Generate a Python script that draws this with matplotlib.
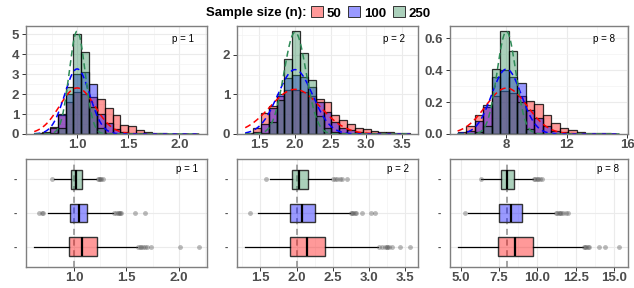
import numpy as np
import matplotlib.pyplot as plt
from matplotlib.colors import to_rgba
from matplotlib.patches import Patch
from matplotlib.ticker import MultipleLocator

plt.rcParams['font.family'] = ['Liberation Sans', 'DejaVu Sans']

# sample sizes and colours (red = 50, blue = 100, green = 250)
sizes = ['50', '100', '250']
fills = ['#FF0000', '#0000FF', '#2E8B57']
lines = ['#FF0000', '#0000FF', '#2E8B57']
p_values = [1, 2, 8]

# histograms: first bin edge, bin width, density per bin
bin_start = [0.58, 1.30, 4.76]
bin_width = [0.0767, 0.11, 0.565]

dens_p1_n50 = [0.03, 0.1, 0.35, 0.95, 1.6, 2.1, 2.0, 1.85, 1.75, 1.3, 0.93,
               0.45, 0.38, 0.22, 0.12, 0.06, 0.03, 0.01, 0.0, 0.01, 0.01]
dens_p1_n100 = [0.0, 0.04, 0.3, 1.0, 2.0, 3.0, 3.1, 2.5, 1.0, 0.55, 0.25,
                0.1, 0.05, 0.03, 0.01, 0.01, 0.0, 0.0, 0.0, 0.0, 0.0]
dens_p1_n250 = [0.0, 0.0, 0.03, 0.3, 2.35, 5.0, 4.1, 1.35, 0.3, 0.05, 0.01,
                0.0, 0.0, 0.0, 0.0, 0.0, 0.0, 0.0, 0.0, 0.0, 0.0]

dens_p2_n50 = [0.03, 0.15, 0.53, 0.7, 0.95, 1.1, 1.1, 1.05, 0.95, 0.88, 0.8,
               0.47, 0.35, 0.26, 0.15, 0.12, 0.08, 0.06, 0.04, 0.02, 0.02]
dens_p2_n100 = [0.0, 0.06, 0.25, 0.65, 1.0, 1.41, 1.5, 1.45, 1.2, 0.8, 0.55,
                0.3, 0.15, 0.1, 0.05, 0.03, 0.02, 0.0, 0.0, 0.0, 0.0]
dens_p2_n250 = [0.0, 0.0, 0.02, 0.3, 0.85, 1.9, 2.6, 2.05, 1.37, 0.45, 0.15,
                0.05, 0.02, 0.0, 0.0, 0.0, 0.0, 0.0, 0.0, 0.0, 0.0]

dens_p8_n50 = [0.015, 0.05, 0.12, 0.17, 0.24, 0.27, 0.26, 0.24, 0.21, 0.19,
               0.12, 0.07, 0.04, 0.025, 0.015, 0.008, 0.005, 0.004, 0.003]
dens_p8_n100 = [0.003, 0.02, 0.08, 0.18, 0.36, 0.4, 0.36, 0.32, 0.15, 0.1,
                0.05, 0.02, 0.01, 0.005, 0.0, 0.0, 0.0, 0.0, 0.0]
dens_p8_n250 = [0.0, 0.0, 0.01, 0.05, 0.41, 0.645, 0.52, 0.2, 0.03, 0.005,
                0.0, 0.0, 0.0, 0.0, 0.0, 0.0, 0.0, 0.0, 0.0]

# normal approximations (dashed curves): sd for n = 50, 100, 250
curve_sd_p1 = [0.173, 0.1225, 0.0775]
curve_sd_p2 = [0.3535, 0.245, 0.155]
curve_sd_p8 = [1.386, 0.98, 0.62]

# boxplots: [whisker low, q1, median, q3, whisker high] and outliers
box_p1_n50 = [0.62, 0.955, 1.08, 1.22, 1.60]
box_p1_n100 = [0.75, 0.962, 1.045, 1.127, 1.37]
box_p1_n250 = [0.81, 0.968, 1.018, 1.075, 1.21]
out_p1_n50 = [1.61, 1.63, 1.64, 1.66, 1.68, 1.70, 1.73, 2.01, 2.19]
out_p1_n100 = [0.67, 0.69, 0.70, 1.385, 1.40, 1.42, 1.43, 1.44, 1.45, 1.58, 1.68]
out_p1_n250 = [0.79, 1.225, 1.24, 1.25, 1.26, 1.28]

box_p2_n50 = [1.29, 1.905, 2.14, 2.395, 3.12]
box_p2_n100 = [1.47, 1.905, 2.07, 2.25, 2.74]
box_p2_n250 = [1.63, 1.935, 2.035, 2.15, 2.48]
out_p2_n50 = [3.14, 3.17, 3.22, 3.24, 3.25, 3.27, 3.31, 3.42, 3.56]
out_p2_n100 = [1.36, 2.75, 2.76, 2.78, 2.80, 2.82, 2.90, 3.02, 3.08]
out_p2_n250 = [1.57, 2.50, 2.53, 2.56, 2.60, 2.62, 2.69]

box_p8_n50 = [4.8, 7.45, 8.55, 9.69, 13.0]
box_p8_n100 = [5.5, 7.52, 8.26, 8.99, 11.1]
box_p8_n250 = [6.35, 7.65, 8.04, 8.48, 9.69]
out_p8_n50 = [13.05, 13.1, 13.2, 13.3, 13.4, 14.05, 14.4, 15.35]
out_p8_n100 = [5.3, 11.2, 11.3, 11.4, 11.45, 11.55, 11.7, 11.85, 12.0]
out_p8_n250 = [6.3, 9.75, 9.85, 9.95, 10.05, 10.15, 10.3]

hist_x_ticks = [[1.0, 1.5, 2.0], [1.5, 2.0, 2.5, 3.0, 3.5], [8, 12, 16]]
hist_x_labels = [['1.0', '1.5', '2.0'], ['1.5', '2.0', '2.5', '3.0', '3.5'], ['8', '12', '16']]
hist_y_ticks = [[0, 1, 2, 3, 4, 5], [0, 1, 2], [0.0, 0.2, 0.4, 0.6]]
hist_y_labels = [['0', '1', '2', '3', '4', '5'], ['0', '1', '2'], ['0.0', '0.2', '0.4', '0.6']]
box_x_ticks = [[1.0, 1.5, 2.0], [1.5, 2.0, 2.5, 3.0, 3.5], [5.0, 7.5, 10.0, 12.5, 15.0]]
box_x_labels = [['1.0', '1.5', '2.0'], ['1.5', '2.0', '2.5', '3.0', '3.5'],
                ['5.0', '7.5', '10.0', '12.5', '15.0']]

dens = [[dens_p1_n50, dens_p1_n100, dens_p1_n250],
        [dens_p2_n50, dens_p2_n100, dens_p2_n250],
        [dens_p8_n50, dens_p8_n100, dens_p8_n250]]
curve_sd = [curve_sd_p1, curve_sd_p2, curve_sd_p8]
boxes = [[box_p1_n50, box_p1_n100, box_p1_n250],
         [box_p2_n50, box_p2_n100, box_p2_n250],
         [box_p8_n50, box_p8_n100, box_p8_n250]]
outs = [[out_p1_n50, out_p1_n100, out_p1_n250],
        [out_p2_n50, out_p2_n100, out_p2_n250],
        [out_p8_n50, out_p8_n100, out_p8_n250]]

tick_col = '#4D4D4D'
border = '#7F7F7F'


def style(ax, minor_x, minor_y=None):
    for s in ax.spines.values():
        s.set_color(border)
        s.set_linewidth(1.0)
    ax.xaxis.set_minor_locator(MultipleLocator(minor_x))
    if minor_y:
        ax.yaxis.set_minor_locator(MultipleLocator(minor_y))
    ax.grid(which='major', color='#EBEBEB', lw=0.8)
    ax.grid(which='minor', color='#F3F3F3', lw=0.5)
    ax.set_axisbelow(True)
    ax.tick_params(which='minor', length=0)
    ax.tick_params(which='major', length=2.7, width=0.7, color='#333333',
                   labelcolor=tick_col, labelsize=9.5)
    ax.tick_params(axis='x', pad=1.2)
    ax.tick_params(axis='y', pad=2.2)
    for t in ax.get_xticklabels() + ax.get_yticklabels():
        t.set_fontweight('bold')


fig = plt.figure(figsize=(6.34, 2.88), dpi=100)
lefts = [26, 237, 449.5]
widths = [181, 181, 178]
minor_hx = [0.25, 0.25, 2]
minor_hy = [0.5, 0.5, 0.1]
minor_bx = [0.25, 0.25, 1.25]

for i, p in enumerate(p_values):
    ax = fig.add_axes([lefts[i] / 634, 1 - 134 / 288, widths[i] / 634, 108 / 288])
    nb = len(dens[i][0])
    edges = bin_start[i] + bin_width[i] * np.arange(nb + 1)
    for k in range(3):
        ax.bar(edges[:-1], dens[i][k], width=bin_width[i], align='edge',
               color=to_rgba(fills[k], 0.4), edgecolor=(0, 0, 0, 0.8), lw=0.9)
    xs = np.linspace(edges[0], edges[-1], 400)
    for k in range(3):
        sd = curve_sd[i][k]
        ys = np.exp(-0.5 * ((xs - p) / sd) ** 2) / (sd * np.sqrt(2 * np.pi))
        ax.plot(xs, ys, color=lines[k], lw=1.1, ls=(0, (4, 2.5)))
    ax.margins(x=0.05, y=0.05)
    ax.set_xticks(hist_x_ticks[i], hist_x_labels[i])
    ax.set_yticks(hist_y_ticks[i], hist_y_labels[i])
    style(ax, minor_hx[i], minor_hy[i])
    ax.text(0.87, 0.88, 'p = %d' % p, transform=ax.transAxes, ha='center',
            va='center', fontsize=7)

    axb = fig.add_axes([lefts[i] / 634, 1 - 267 / 288, widths[i] / 634, 108 / 288])
    axb.axvline(p, color='#8C8C8C', lw=1.1, ls=(0, (4, 3)), zorder=1.5)
    stats = []
    for k in range(3):
        lo, q1, med, q3, hi = boxes[i][k]
        stats.append(dict(whislo=lo, q1=q1, med=med, q3=q3, whishi=hi,
                          fliers=outs[i][k]))
    bp = axb.bxp(stats, positions=[1, 2, 3], widths=0.55, orientation='horizontal',
                 patch_artist=True, showcaps=False,
                 boxprops=dict(edgecolor='#333333', lw=1.0),
                 whiskerprops=dict(color='black', lw=0.9),
                 medianprops=dict(color='black', lw=1.6),
                 flierprops=dict(marker='o', markerfacecolor='#555555',
                                 markeredgecolor='none', alpha=0.4, markersize=3.5))
    for k, patch in enumerate(bp['boxes']):
        patch.set_facecolor(to_rgba(fills[k], 0.4))
        patch.set_zorder(2)
    axb.set_ylim(0.4, 3.6)
    axb.margins(x=0.05)
    axb.set_yticks([1, 2, 3], ['-', '-', '-'])
    axb.set_xticks(box_x_ticks[i], box_x_labels[i])
    style(axb, minor_bx[i])
    axb.tick_params(axis='y', length=0, pad=6.5, labelsize=7)
    axb.text(0.89, 0.91, 'p = %d' % p, transform=axb.transAxes, ha='center',
             va='center', fontsize=7)

# legend at the top
fig.text(307 / 634, 1 - 13 / 288, 'Sample size (n):', ha='right', va='center',
         fontsize=9.5, fontweight='bold')
handles = [Patch(facecolor=to_rgba(fills[k], 0.4), edgecolor='#333333', lw=0.7)
           for k in range(3)]
fig.legend(handles, sizes, ncol=3, loc='center left',
           bbox_to_anchor=(311 / 634, 1 - 13 / 288), frameon=False,
           handlelength=0.9, handleheight=0.9, handletextpad=0.3,
           columnspacing=0.5, borderpad=0, borderaxespad=0,
           prop=dict(size=9.5, weight='bold'))

fig.savefig('out.png', dpi=100)
